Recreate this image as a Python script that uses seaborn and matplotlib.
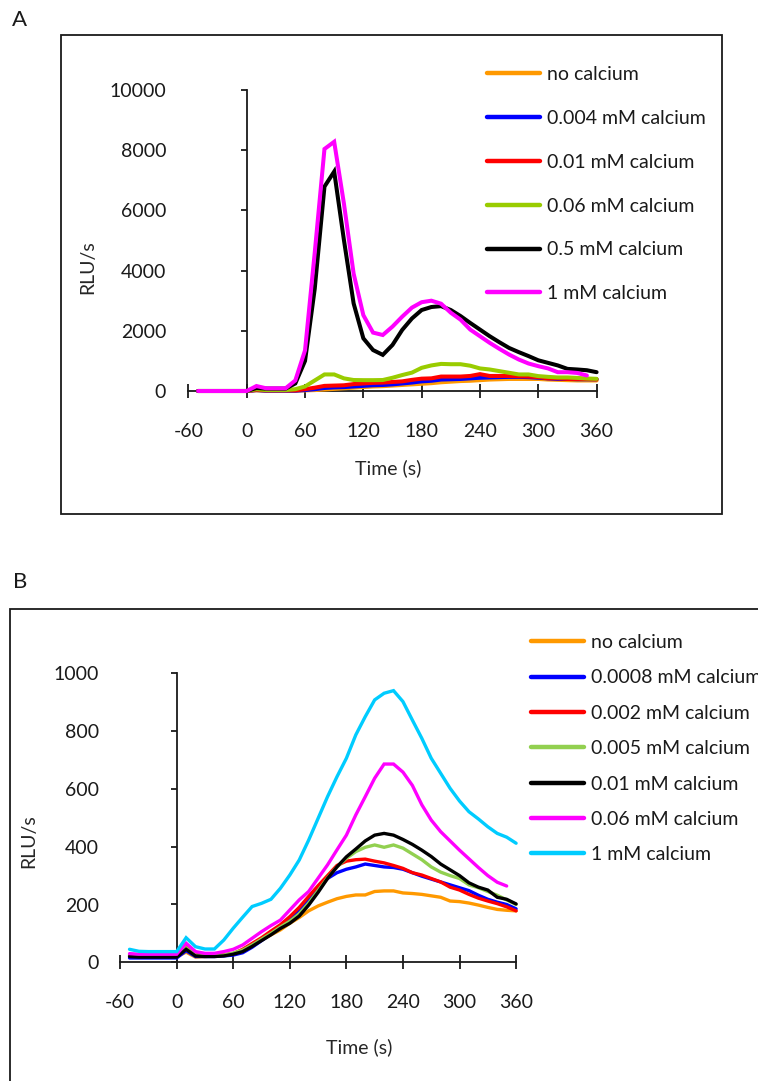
import matplotlib
matplotlib.use("Agg")
import matplotlib.pyplot as plt
from matplotlib.patches import Rectangle
import pandas as pd
import seaborn as sns

# ---------------------------------------------------------------- data
time_s = [-50, -40, -30, -20, -10, 0, 10, 20, 30, 40, 50, 60, 70, 80, 90,
          100, 110, 120, 130, 140, 150, 160, 170, 180, 190, 200, 210, 220,
          230, 240, 250, 260, 270, 280, 290, 300, 310, 320, 330, 340, 350, 360]

# Panel A
a_labels = ["no calcium", "0.004 mM calcium", "0.01 mM calcium",
            "0.06 mM calcium", "0.5 mM calcium", "1 mM calcium"]
a_colors = ["#FF9900", "#0000FF", "#FF0000", "#99CC00", "#000000", "#FF00FF"]

a_none = [0, 0, 0, 0, 0, 0, 20, 10, 10, 10, 10, 20, 30, 50, 70, 90, 110, 130,
          150, 160, 180, 200, 220, 240, 260, 290, 310, 330, 340, 360, 380, 390,
          400, 400, 400, 400, 380, 370, 360, 350, 350, 350]
a_0004 = [0, 0, 0, 0, 0, 0, 30, 10, 10, 10, 10, 30, 60, 100, 120, 130, 150, 170,
          190, 200, 220, 250, 280, 320, 340, 380, 390, 400, 420, 440, 450, 460,
          470, 470, 460, 440, 420, 400, 400, 390, 390, 390]
a_001 = [0, 0, 0, 0, 0, 0, 40, 20, 20, 20, 20, 60, 110, 170, 180, 190, 230, 250,
         270, 280, 300, 320, 370, 410, 420, 480, 480, 480, 500, 560, 500, 500,
         500, 490, 480, 460, 420, 420, 400, 400, 400, 390]
a_006 = [0, 0, 0, 0, 0, 0, 60, 30, 30, 30, 60, 150, 350, 550, 550, 420, 365, 360,
         360, 365, 440, 530, 610, 770, 850, 900, 890, 890, 840, 750, 715, 660,
         605, 550, 550, 495, 470, 450, 450, 435, 415, 405]
a_05 = [0, 0, 0, 0, 0, 0, 100, 80, 80, 80, 250, 1000, 3400, 6790, 7290, 5020,
        2910, 1750, 1360, 1200, 1530, 2030, 2410, 2690, 2790, 2820, 2690, 2490,
        2260, 2040, 1820, 1620, 1430, 1290, 1160, 1020, 935, 850, 735, 715, 690,
        625]
a_1 = [0, 0, 0, 0, 0, 0, 165, 90, 90, 90, 350, 1350, 4600, 8040, 8280, 6230,
       3900, 2520, 1940, 1860, 2140, 2470, 2770, 2950, 3000, 2900, 2600, 2370,
       2040, 1820, 1600, 1400, 1210, 1045, 913, 825, 750, 625, 625, 600, 515]
a_series = [a_none, a_0004, a_001, a_006, a_05, a_1]

# Panel B
b_labels = ["no calcium", "0.0008 mM calcium", "0.002 mM calcium",
            "0.005 mM calcium", "0.01 mM calcium", "0.06 mM calcium",
            "1 mM calcium"]
b_colors = ["#FF9900", "#0000FF", "#FF0000", "#92D050", "#000000", "#FF00FF",
            "#00CCFF"]

b_none = [20, 20, 20, 20, 20, 20, 35, 18, 20, 22, 25, 30, 40, 58, 78, 95, 112,
          135, 155, 178, 195, 208, 220, 228, 233, 233, 245, 247, 247, 240, 238,
          235, 230, 225, 212, 210, 205, 198, 190, 183, 180, 178]
b_00008 = [15, 15, 15, 15, 15, 15, 40, 20, 20, 20, 22, 25, 33, 52, 75, 98, 122,
           150, 183, 220, 256, 290, 310, 322, 330, 340, 335, 330, 328, 322, 310,
           298, 288, 278, 268, 258, 248, 232, 218, 208, 200, 185]
b_0002 = [25, 24, 24, 24, 24, 24, 55, 27, 24, 24, 26, 30, 45, 65, 85, 108, 130,
          158, 190, 228, 265, 300, 335, 350, 355, 357, 350, 344, 335, 325, 310,
          302, 290, 278, 260, 250, 235, 222, 212, 203, 192, 178]
b_0005 = [24, 22, 22, 22, 22, 22, 50, 25, 22, 22, 25, 32, 42, 60, 80, 100, 122,
          142, 168, 205, 248, 292, 330, 360, 383, 398, 406, 398, 406, 395, 375,
          355, 330, 312, 300, 290, 268, 258, 245, 232, 216, 200]
b_001 = [20, 18, 18, 18, 18, 18, 45, 22, 20, 20, 22, 28, 37, 55, 75, 95, 117,
         135, 160, 198, 242, 290, 330, 365, 392, 420, 440, 446, 440, 425, 408,
         388, 366, 340, 320, 300, 275, 260, 250, 225, 218, 202]
b_006 = [30, 28, 28, 28, 28, 28, 66, 37, 31, 31, 37, 45, 60, 83, 106, 127, 146,
         181, 216, 245, 291, 337, 389, 440, 510, 573, 637, 686, 686, 658, 612,
         545, 492, 452, 420, 388, 358, 328, 300, 277, 264]
b_1 = [45, 38, 37, 37, 37, 37, 85, 54, 46, 46, 77, 118, 156, 193, 204, 218, 256,
       302, 354, 423, 498, 573, 642, 706, 787, 850, 908, 931, 940, 902, 838,
       775, 706, 654, 602, 558, 521, 496, 469, 446, 433, 412]
b_series = [b_none, b_00008, b_0002, b_0005, b_001, b_006, b_1]

# ---------------------------------------------------------------- style
sns.set_theme(style="white")
plt.rcParams["font.family"] = ["Lato", "DejaVu Sans"]
plt.rcParams["axes.unicode_minus"] = False
plt.rcParams["text.color"] = "#1a1a1a"
plt.rcParams["xtick.color"] = "#1a1a1a"
plt.rcParams["ytick.color"] = "#1a1a1a"

W, H = 758, 1081
fig = plt.figure(figsize=(W / 100, H / 100), dpi=100)
fig.patch.set_facecolor("white")


def add_px_axes(left, top, right, bottom):
    return fig.add_axes([left / W, 1 - bottom / H, (right - left) / W,
                         (bottom - top) / H])


def long_frame(labels, series):
    rows = []
    for lab, vals in zip(labels, series):
        for t, v in zip(time_s, vals):
            rows.append((t, v, lab))
    return pd.DataFrame(rows, columns=["time", "rlu", "condition"])


def draw_panel(ax, labels, series, colors, ymax, ystep, lw, ytick_pad,
               legend_xy, legend_spacing, xlabel_xy, ylabel_xy):
    df = long_frame(labels, series)
    sns.lineplot(data=df, x="time", y="rlu", hue="condition",
                 hue_order=labels, palette=colors, linewidth=lw, ax=ax,
                 legend=True, sort=False)
    for line in ax.lines:
        line.set_clip_on(False)
        line.set_zorder(3)
        line.set_solid_joinstyle("miter")

    ax.set_xlim(-60, 360)
    ax.set_ylim(0, ymax)
    ax.set_xticks(list(range(-60, 361, 60)))
    ax.set_yticks(list(range(0, ymax + 1, ystep)))
    ax.set_facecolor("none")
    ax.spines["left"].set_position(("data", 0))
    ax.spines["top"].set_visible(False)
    ax.spines["right"].set_visible(False)
    for s in ("left", "bottom"):
        ax.spines[s].set_linewidth(1.3)
        ax.spines[s].set_color("#1a1a1a")
    ax.tick_params(axis="y", direction="out", length=4.5, width=1.3,
                   pad=ytick_pad, labelsize=14, left=True)
    ax.tick_params(axis="x", direction="inout", length=9.5, width=1.3,
                   pad=18, labelsize=14, bottom=True)

    ax.set_xlabel("Time (s)", fontsize=14)
    ax.set_ylabel("RLU/s", fontsize=14)
    ax.xaxis.set_label_coords(*xlabel_xy)
    ax.yaxis.set_label_coords(*ylabel_xy)

    handles, _ = ax.get_legend_handles_labels()
    leg = ax.legend(handles[-len(labels):], labels, loc="upper left",
                    bbox_to_anchor=(legend_xy[0] / W, 1 - legend_xy[1] / H),
                    bbox_transform=fig.transFigure, frameon=False,
                    fontsize=14, handlelength=2.75, handletextpad=0.35,
                    labelspacing=legend_spacing, borderpad=0,
                    borderaxespad=0)
    for h in leg.get_lines():
        h.set_linewidth(3.2)


# Panel A: plot area spans t=-60..360 -> x 188..597 px, y 0..10000 -> 391..90 px
axA = add_px_axes(188.4, 90.0, 596.6, 391.0)
draw_panel(axA, a_labels, a_series, a_colors, 10000, 2000, 2.9,
           ytick_pad=53.5, legend_xy=(487, 66), legend_spacing=1.38,
           xlabel_xy=(0.489, -0.228), ylabel_xy=(-0.225, 0.41))

# Panel B: plot area spans t=-60..360 -> x 120..516 px, y 0..1000 -> 962..673 px
axB = add_px_axes(120.1, 673.3, 516.1, 962.3)
draw_panel(axB, b_labels, b_series, b_colors, 1000, 200, 2.4,
           ytick_pad=51.5, legend_xy=(531, 634), legend_spacing=0.945,
           xlabel_xy=(0.603, -0.262), ylabel_xy=(-0.21, 0.42))

# Panel frames and letters
fig.add_artist(Rectangle((61 / W, 1 - 514 / H), (722 - 61) / W, (514 - 35) / H,
                         transform=fig.transFigure, fill=False,
                         edgecolor="#1a1a1a", linewidth=1.3))
fig.add_artist(Rectangle((10 / W, 1 - 1120 / H), (820 - 10) / W,
                         (1120 - 609) / H, transform=fig.transFigure,
                         fill=False, edgecolor="#1a1a1a", linewidth=1.3))
fig.text(12 / W, 1 - 10 / H, "A", ha="left", va="top", fontsize=16)
fig.text(13 / W, 1 - 572 / H, "B", ha="left", va="top", fontsize=16)

fig.savefig("out.png", dpi=100, facecolor="white")
